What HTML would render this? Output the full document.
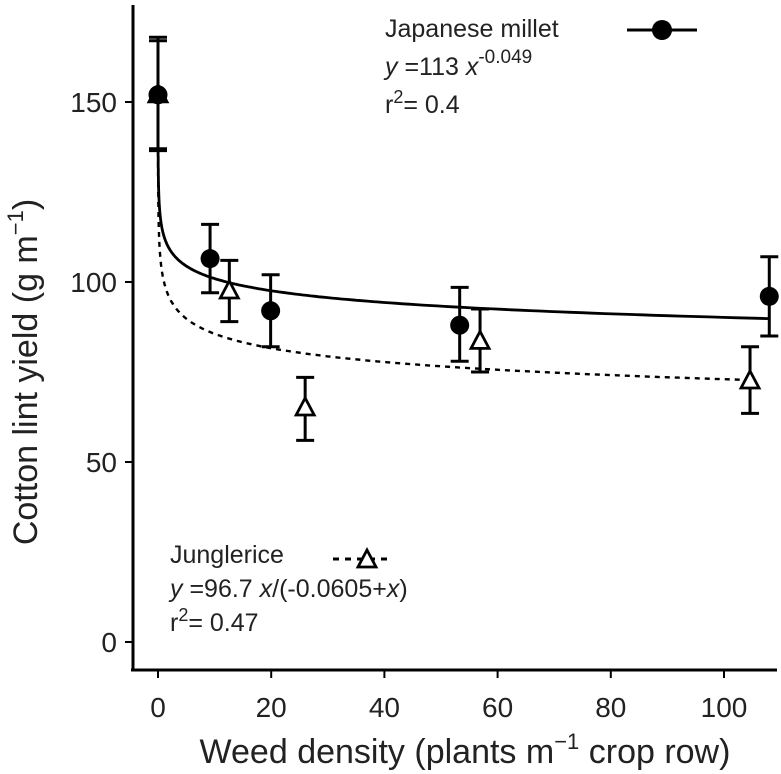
<!DOCTYPE html>
<html><head><meta charset="utf-8"><style>
html,body{margin:0;padding:0;background:#fff}
svg{display:block;font-family:"Liberation Sans",Arial,sans-serif}
</style></head><body>
<svg id="chart" width="781" height="774"></svg>
<script>
const millX=[0,9.2,19.9,53.3,108];
const millY=[152,106.5,92,88,96];
const millLo=[136.5,97,82,78,85];
const millHi=[168,116,102,98.5,107];
const jungX=[0,12.6,26,56.9,104.6];
const jungY=[152,97.5,65,83.5,72.5];
const jungLo=[137,89,56,75,63.5];
const jungHi=[167,106,73.5,92.5,82];
const xTicks=[0,20,40,60,80,100];
const yTicks=[0,50,100,150];
const millFit=[113,-0.049];
const jungFit=[100.4,-0.0692];

const NS="http://www.w3.org/2000/svg";
const svg=document.getElementById('chart');
function sx(v){return 158+v*5.66;}
function sy(v){return 642-v*3.6;}
function el(t,a,p){const e=document.createElementNS(NS,t);for(const k in a)e.setAttribute(k,a[k]);(p||svg).appendChild(e);return e;}

const ax=el('line',{x1:133,y1:5,x2:133,y2:671,stroke:'#000','stroke-width':3});


const bx=el('line',{x1:131,y1:670,x2:777,y2:670,stroke:'#000','stroke-width':3});


xTicks.forEach(v=>{
  const t=el('line',{x1:sx(v),y1:670,x2:sx(v),y2:678,stroke:'#000','stroke-width':2});
  
  
  const l=el('text',{x:sx(v),y:717,'text-anchor':'middle','font-size':28,fill:'#222'});
  l.textContent=v;
  
  
});
yTicks.forEach(v=>{
  const t=el('line',{x1:125,y1:sy(v),x2:133,y2:sy(v),stroke:'#000','stroke-width':2});
  
  
  const l=el('text',{x:117,y:sy(v)+10,'text-anchor':'end','font-size':28,fill:'#222'});
  l.textContent=v;
  
  
});

function curve(fit,xmax,dash,name){
  let d='';
  const x0=Math.pow(150/fit[0],1/fit[1]);
  for(let i=0;i<=400;i++){
    const x=x0*Math.pow(xmax/x0,i/400);
    const y=fit[0]*Math.pow(x,fit[1]);
    d+=(i?'L':'M')+sx(x).toFixed(1)+','+sy(y).toFixed(1);
  }
  const p=el('path',{d:d,fill:'none',stroke:'#000','stroke-width':dash?2.4:2.8,'stroke-dasharray':dash||'none'});
  
  
}
curve(jungFit,104.6,'5,5','junglerice-fit-curve');
curve(millFit,108,null,'millet-fit-curve');

function errbar(x,lo,hi,name){
  const g=el('g',{stroke:'#000','stroke-width':3});
  
  
  el('line',{x1:sx(x),y1:sy(lo),x2:sx(x),y2:sy(hi)},g);
  el('line',{x1:sx(x)-9,y1:sy(lo),x2:sx(x)+9,y2:sy(lo)},g);
  el('line',{x1:sx(x)-9,y1:sy(hi),x2:sx(x)+9,y2:sy(hi)},g);
}
function tri(cx,cy,p){
  return el('path',{d:`M${cx},${cy-10}L${cx+9},${cy+7}L${cx-9},${cy+7}Z`,fill:'#fff',stroke:'#000','stroke-width':2.8},p);
}
jungX.forEach((x,i)=>{
  errbar(x,jungLo[i],jungHi[i],'junglerice-error-bar');
  const t=tri(sx(x),sy(jungY[i]));
  
  
});
millX.forEach((x,i)=>{
  errbar(x,millLo[i],millHi[i],'millet-error-bar');
  const c=el('circle',{cx:sx(x),cy:sy(millY[i]),r:9.5,fill:'#000'});
  
  
});

function txt(x,y,html,size,name,anchor){
  const t=el('text',{x:x,y:y,'font-size':size,fill:'#222','text-anchor':anchor||'start'});
  t.innerHTML=html;
  
  
  return t;
}
txt(385,37,'Japanese millet',25,'millet-legend-label');
const ml=el('line',{x1:627,y1:30,x2:697,y2:30,stroke:'#000','stroke-width':3});


const mc=el('circle',{cx:662,cy:30,r:10,fill:'#000'});


txt(385,75,'<tspan font-style="italic">y</tspan> =113 <tspan font-style="italic">x</tspan><tspan dy="-12" font-size="19">-0.049</tspan>',25,'millet-equation');
txt(385,113,'r<tspan dy="-10" font-size="18">2</tspan><tspan dy="10">= 0.4</tspan>',25,'millet-r2');

txt(170,563,'Junglerice',25,'junglerice-legend-label');
const jl=el('line',{x1:333,y1:559,x2:393,y2:559,stroke:'#000','stroke-width':3,'stroke-dasharray':'6,6'});


const jt=tri(367,560);


txt(170,597,'<tspan font-style="italic">y</tspan> =96.7 <tspan font-style="italic">x</tspan>/(-0.0605+<tspan font-style="italic">x</tspan>)',25,'junglerice-equation');
txt(170,631,'r<tspan dy="-10" font-size="18">2</tspan><tspan dy="10">= 0.47</tspan>',25,'junglerice-r2');

txt(465,763,'Weed density (plants m<tspan dy="-14" font-size="22">−1</tspan><tspan dy="14"> crop row)</tspan>',34,'x-axis-title','middle');
const yt=txt(0,0,'Cotton lint yield (g m<tspan dy="-14" font-size="22">−1</tspan><tspan dy="14">)</tspan>',34,'y-axis-title','middle');
yt.setAttribute('transform','translate(37,372) rotate(-90)');
</script>
</body></html>
